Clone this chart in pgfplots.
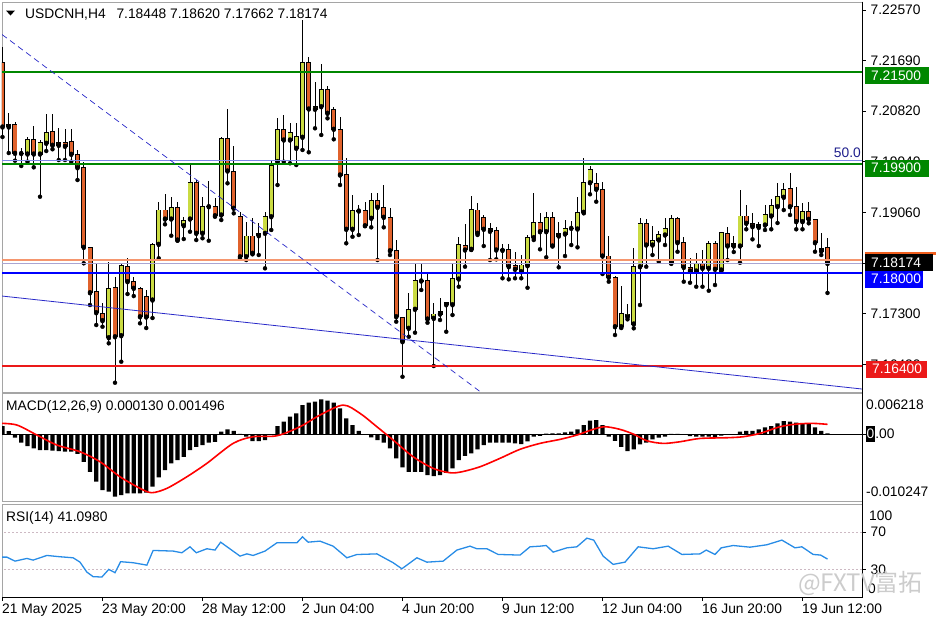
\documentclass[border=0pt]{standalone}
\usepackage{pgfplots}
\pgfplotsset{compat=1.18}
\usepackage{pgfplotstable}
\usepackage{fontspec}
\setmainfont{Liberation Sans}
\newfontfamily\cjk{Noto Sans CJK SC}

\definecolor{bull}{RGB}{202,219,66}
\definecolor{bear}{RGB}{224,98,44}
\definecolor{levelgreen}{RGB}{0,135,0}
\definecolor{levelblue}{RGB}{0,0,255}
\definecolor{levelred}{RGB}{235,25,25}
\definecolor{trend}{RGB}{40,40,200}
\definecolor{fibc}{RGB}{125,135,230}
\definecolor{fibtext}{RGB}{30,30,140}
\definecolor{frame}{RGB}{165,165,165}
\definecolor{rsic}{RGB}{40,140,230}
\definecolor{asking}{RGB}{245,150,110}
\definecolor{bidline}{RGB}{170,165,210}
\definecolor{askbox}{RGB}{240,95,30}
\definecolor{rsilvl}{RGB}{205,185,195}

\newcommand{\tf}{\fontsize{13.8}{16}\selectfont}

% H4 candles: index, open, high, low, close
\pgfplotstableread{
i o h l c
0 7.21651 7.21929 7.20367 7.20541
1 7.20541 7.20789 7.20089 7.20584
2 7.20587 7.20627 7.19956 7.20084
3 7.20081 7.20171 7.19864 7.20089
4 7.20072 7.20372 7.19939 7.20327
5 7.20327 7.20558 7.19841 7.20072
6 7.20072 7.20315 7.19331 7.20268
7 7.20258 7.20766 7.20124 7.20449
8 7.20466 7.20766 7.20154 7.20223
9 7.20223 7.20518 7.19968 7.20263
10 7.20263 7.20506 7.19968 7.20206
11 7.20292 7.20501 7.19939 7.20067
12 7.20055 7.20142 7.19621 7.19834
13 7.19834 7.19939 7.18176 7.18453
14 7.18453 7.18464 7.17452 7.17666
15 7.17683 7.18164 7.17105 7.17319
16 7.17308 7.17482 7.17076 7.17180
17 7.16885 7.18204 7.16788 7.17742
18 7.17759 7.17933 7.16104 7.16902
19 7.16920 7.18176 7.16469 7.18129
20 7.18117 7.18262 7.17643 7.17857
21 7.17857 7.17933 7.17608 7.17742
22 7.17742 7.17770 7.17135 7.17249
23 7.17591 7.17713 7.17053 7.17244
24 7.17539 7.18528 7.17227 7.18505
25 7.18505 7.19234 7.18262 7.19100
26 7.19100 7.19378 7.18852 7.18944
27 7.18944 7.19321 7.18655 7.19147
28 7.19140 7.19234 7.18568 7.18580
29 7.18828 7.18974 7.18597 7.18915
30 7.18944 7.19911 7.18724 7.19581
31 7.19581 7.19621 7.18580 7.18696
32 7.18696 7.19331 7.18610 7.19158
33 7.19158 7.19604 7.18568 7.19165
34 7.19158 7.19314 7.18984 7.19002
35 7.19014 7.20372 7.18927 7.20345
36 7.20345 7.20848 7.19564 7.19777
37 7.19765 7.20211 7.19043 7.19130
38 7.18984 7.19071 7.18262 7.18290
39 7.18290 7.18898 7.18233 7.18649
40 7.18649 7.18957 7.18332 7.18349
41 7.18655 7.18870 7.18320 7.18696
42 7.18696 7.19071 7.18089 7.18984
43 7.18984 7.19968 7.18754 7.19869
44 7.19939 7.20702 7.19534 7.20501
45 7.20501 7.20749 7.19939 7.20315
46 7.20315 7.20615 7.19911 7.20442
47 7.20171 7.20605 7.19881 7.20372
48 7.20362 7.22397 7.20142 7.21663
49 7.21663 7.21750 7.20102 7.20853
50 7.20848 7.21326 7.20518 7.20893
51 7.20893 7.21634 7.20402 7.21195
52 7.21195 7.21252 7.20691 7.20778
53 7.20836 7.20882 7.20327 7.20501
54 7.20501 7.20719 7.19534 7.19708
55 7.19708 7.19998 7.18523 7.18766
56 7.18766 7.19361 7.18637 7.19088
57 7.19083 7.19187 7.18667 7.19088
58 7.19088 7.19245 7.18823 7.18828
59 7.18957 7.19390 7.18800 7.19257
60 7.19257 7.19390 7.18233 7.19147
61 7.19147 7.19534 7.18800 7.18974
62 7.18962 7.19130 7.18320 7.18394
63 7.18394 7.18580 7.17163 7.17249
64 7.17239 7.17249 7.16208 7.16816
65 7.17048 7.17655 7.16902 7.17378
66 7.17378 7.18164 7.16972 7.17874
67 7.17869 7.18164 7.17713 7.17874
68 7.17874 7.17990 7.17145 7.17209
69 7.17221 7.17482 7.16394 7.17296
70 7.17296 7.17568 7.17192 7.17343
71 7.17499 7.17510 7.16989 7.17457
72 7.17457 7.18176 7.17279 7.17916
73 7.17903 7.18637 7.17770 7.18505
74 7.18488 7.18852 7.18117 7.18407
75 7.18419 7.19343 7.18407 7.19113
76 7.19100 7.19217 7.18667 7.18696
77 7.18974 7.19014 7.18476 7.18766
78 7.18771 7.18870 7.18233 7.18731
79 7.18736 7.18811 7.18245 7.18407
80 7.18407 7.18511 7.17916 7.18401
81 7.18407 7.18511 7.17898 7.18117
82 7.18129 7.18377 7.17916 7.18072
83 7.18030 7.18320 7.17916 7.18146
84 7.18134 7.18667 7.17752 7.18627
85 7.18620 7.19401 7.18580 7.18887
86 7.18887 7.19054 7.18419 7.18724
87 7.18724 7.19071 7.18280 7.18974
88 7.18974 7.19071 7.18476 7.18476
89 7.18649 7.18898 7.18106 7.18696
90 7.18684 7.18927 7.18302 7.18783
91 7.18783 7.18915 7.18493 7.18788
92 7.18771 7.19321 7.18453 7.19061
93 7.19061 7.19998 7.19043 7.19574
94 7.19574 7.19864 7.19373 7.19807
95 7.19564 7.19748 7.19245 7.19460
96 7.19460 7.19591 7.17990 7.18302
97 7.18302 7.18649 7.17857 7.17933
98 7.17933 7.17955 7.16932 7.17076
99 7.17076 7.17787 7.17053 7.17308
100 7.17249 7.17470 7.17204 7.17296
101 7.17123 7.18436 7.17048 7.18117
102 7.18117 7.18957 7.17452 7.18870
103 7.18870 7.18939 7.18117 7.18493
104 7.18493 7.18823 7.18320 7.18568
105 7.18580 7.18741 7.18204 7.18667
106 7.18667 7.18957 7.18493 7.18783
107 7.18176 7.19014 7.18176 7.18957
108 7.18957 7.18974 7.18377 7.18533
109 7.18533 7.18637 7.17857 7.18106
110 7.18106 7.18262 7.17839 7.18042
111 7.18042 7.18349 7.17770 7.18164
112 7.18164 7.18407 7.17770 7.18089
113 7.18089 7.18568 7.17700 7.18523
114 7.18523 7.18568 7.17799 7.18072
115 7.18060 7.18724 7.18030 7.18707
116 7.18696 7.18811 7.18233 7.18476
117 7.18476 7.18649 7.18372 7.18511
118 7.18476 7.19448 7.18186 7.18996
119 7.18996 7.19187 7.18766 7.18870
120 7.18858 7.19043 7.18592 7.18811
121 7.18800 7.18898 7.18476 7.18852
122 7.18840 7.19187 7.18754 7.19014
123 7.18996 7.19286 7.18766 7.19170
124 7.19158 7.19569 7.18875 7.19331
125 7.19321 7.19574 7.19100 7.19460
126 7.19477 7.19737 7.19014 7.19158
127 7.19158 7.19505 7.18766 7.18898
128 7.18898 7.19217 7.18766 7.19071
129 7.19071 7.19245 7.18870 7.18939
130 7.18939 7.18939 7.18377 7.18533
131 7.18389 7.18696 7.18320 7.18436
132 7.18448 7.18620 7.17662 7.18174
}\candles

\pgfplotsset{
  mt/.style={
    scale only axis, width=860pt,
    xmin=-0.08, xmax=137.52,
    axis line style={draw=frame, line width=0.9pt},
    tick align=outside, major tick length=3.5pt,
    tick style={black, line width=0.7pt},
    xtick=\empty, scaled ticks=false,
    ytick pos=right, yticklabel pos=right,
    tick label style={font=\tf},
    yticklabel style={anchor=west, inner sep=0pt, xshift=5pt},
    /pgf/number format/assume math mode=true,
  },
  ebar/.style 2 args={only marks, mark=none, forget plot,
    error bars/y dir=plus, error bars/y explicit, error bars/error mark=none,
    error bars/error bar style={draw=#1, line width=#2}},
  hline/.style 2 args={color=#1, solid, line width=#2, mark=none},
}

\begin{document}
\begin{tikzpicture}
\path[use as bounding box] (0pt,0pt) rectangle (936pt,-624pt);

% ---------------- price panel: candles ----------------
\begin{axis}[mt, at={(2pt,-2pt)}, anchor=north west, height=390pt,
  ymin=7.15943, ymax=7.22709,
  ytick={7.2257,7.2169,7.2082,7.1994,7.1906,7.1818,7.1730,7.1642},
  yticklabels={7.22570,7.21690,7.20820,7.19940,7.19060,{},7.17300,7.16420}]
\addplot[ebar={black}{0.9pt}] table[x=i, y=l, y error expr=\thisrow{h}-\thisrow{l}] {\candles};
\addplot[ebar={black}{5pt}] table[x=i,
  y expr={min(\thisrow{o},\thisrow{c})-0.00009},
  y error expr={abs(\thisrow{c}-\thisrow{o})+0.00018}] {\candles};
\addplot[x filter/.expression={\thisrow{c}>=\thisrow{o} ? x : nan}, ebar={bull}{3.2pt}]
  table[x=i, y expr={min(\thisrow{o},\thisrow{c})+0.00008},
  y error expr={max(abs(\thisrow{c}-\thisrow{o})-0.00016,0.00002)}] {\candles};
\addplot[x filter/.expression={\thisrow{c}<\thisrow{o} ? x : nan}, ebar={bear}{3.2pt}]
  table[x=i, y expr={min(\thisrow{o},\thisrow{c})+0.00008},
  y error expr={max(abs(\thisrow{c}-\thisrow{o})-0.00016,0.00002)}] {\candles};
\end{axis}

% ---------------- price panel: levels and trend lines on top ----------------
\begin{axis}[scale only axis, width=860pt, height=390pt, at={(2pt,-2pt)}, anchor=north west,
  xmin=-0.08, xmax=137.52, ymin=7.15943, ymax=7.22709, axis lines=none, ticks=none]
\addplot[hline={fibc}{1pt}] coordinates {(-1,7.19955) (140,7.19955)};
\addplot[hline={levelgreen}{1.8pt}] coordinates {(-1,7.215) (140,7.215)};
\addplot[hline={levelgreen}{1.8pt}] coordinates {(-1,7.199) (140,7.199)};
\addplot[hline={asking}{1.1pt}] coordinates {(-1,7.18233) (140,7.18233)};
\addplot[hline={bidline}{1.1pt}] coordinates {(-1,7.18174) (140,7.18174)};
\addplot[hline={levelred}{1.8pt}] coordinates {(-1,7.164) (140,7.164)};
\addplot[color=trend, line width=0.7pt, dash pattern=on 6pt off 4pt] coordinates {(-0.08,7.22145) (77,7.15903)};
\addplot[color=trend, line width=0.8pt] coordinates {(-0.08,7.17608) (137.52,7.15995)};
\addplot[hline={levelblue}{2pt}] coordinates {(-1,7.18) (140,7.18)};
\end{axis}

% ---------------- MACD panel ----------------
\begin{axis}[mt, at={(2pt,-393.3pt)}, anchor=north west, height=108.4pt,
  ymin=-0.010247, ymax=0.006218,
  ytick={0}, yticklabel style={xshift=-5pt},
  yticklabels={{\fboxsep=0pt\colorbox{black}{\rule[-3.5pt]{0pt}{16pt}\hspace{1pt}\textcolor{white}{0}\hspace{1pt}}.00}}]
\addplot[ybar, bar width=4.2pt, fill=black, draw=none] coordinates {
(0,0.00125) (1,0.00049) (2,-0.00053) (3,-0.00129) (4,-0.00179) (5,-0.00214)
(6,-0.00240) (7,-0.00240) (8,-0.00250) (9,-0.00255) (10,-0.00265) (11,-0.00265)
(12,-0.00300) (13,-0.00418) (14,-0.00570) (15,-0.00720) (16,-0.00848) (17,-0.00873)
(18,-0.00949) (19,-0.00924) (20,-0.00898) (21,-0.00898) (22,-0.00898) (23,-0.00888)
(24,-0.00797) (25,-0.00655) (26,-0.00544) (27,-0.00443) (28,-0.00392) (29,-0.00342)
(30,-0.00240) (31,-0.00190) (32,-0.00164) (33,-0.00129) (34,-0.00114) (35,0.00038)
(36,0.00074) (37,0.00053) (38,0.00005) (39,-0.00038) (40,-0.00103) (41,-0.00103)
(42,-0.00088) (43,-0.00010) (44,0.00125) (45,0.00190) (46,0.00266) (47,0.00317)
(48,0.00443) (49,0.00479) (50,0.00494) (51,0.00530) (52,0.00509) (53,0.00479)
(54,0.00393) (55,0.00241) (56,0.00140) (57,0.00053) (58,-0.00010) (59,-0.00048)
(60,-0.00088) (61,-0.00129) (62,-0.00214) (63,-0.00366) (64,-0.00503) (65,-0.00570)
(66,-0.00570) (67,-0.00570) (68,-0.00620) (69,-0.00635) (70,-0.00620) (71,-0.00585)
(72,-0.00518) (73,-0.00392) (74,-0.00330) (75,-0.00290) (76,-0.00230) (77,-0.00164)
(78,-0.00129) (79,-0.00129) (80,-0.00129) (81,-0.00129) (82,-0.00139) (83,-0.00149)
(84,-0.00110) (85,-0.00038) (86,-0.00023) (87,0.00010) (88,0.00015) (89,0.00015)
(90,0.00029) (91,0.00038) (92,0.00074) (93,0.00140) (94,0.00205) (95,0.00215)
(96,0.00140) (97,-0.00038) (98,-0.00099) (99,-0.00190) (100,-0.00255) (101,-0.00229)
(102,-0.00154) (103,-0.00129) (104,-0.00078) (105,-0.00053) (106,-0.00038) (107,0.00005)
(108,0.00005) (109,-0.00010) (110,-0.00030) (111,-0.00038) (112,-0.00038) (113,-0.00038)
(114,-0.00048) (115,-0.00020) (116,-0.00010) (117,0.00002) (118,0.00038) (119,0.00053)
(120,0.00053) (121,0.00074) (122,0.00104) (123,0.00125) (124,0.00165) (125,0.00200)
(126,0.00190) (127,0.00175) (128,0.00165) (129,0.00155) (130,0.00104) (131,0.00053)
(132,0.00013)};
\addplot[black, line width=0.9pt] coordinates {(-1,0) (140,0)};
\addplot[red, line width=1.6pt, smooth, tension=0.5] coordinates {
(-0.4,0.00166) (2.3,0.00140) (5.5,-0.00012) (8.7,-0.00164) (12.4,-0.00266) (15.6,-0.00418)
(18.8,-0.00646) (22,-0.00822) (23.9,-0.00888) (26.3,-0.00822) (29.5,-0.00646) (32.7,-0.00442)
(36.9,-0.00139) (40.1,-0.00038) (43.9,-0.00023) (47.6,0.00114) (50.8,0.00292) (54.5,0.00443)
(57.2,0.00317) (59.9,0.00114) (62.5,-0.00088) (65.7,-0.00342) (68.9,-0.00518) (71.6,-0.00585)
(73.5,-0.00570) (76.4,-0.00494) (79.6,-0.00366) (82.8,-0.00229) (86,-0.00139) (89.2,-0.00078)
(91.9,-0.00012) (94.5,0.00074) (96.4,0.00114) (98.8,0.00074) (101,0.00000) (103.1,-0.00099)
(105.7,-0.00139) (108.4,-0.00114) (111.6,-0.00064) (115.9,-0.00053) (118.5,-0.00038)
(121.2,0.00013) (124.4,0.00114) (127.1,0.00155) (129.7,0.00165) (132,0.00150)};
\end{axis}

% ---------------- RSI panel ----------------
\begin{axis}[mt, at={(2pt,-504.3pt)}, anchor=north west, height=93pt,
  ymin=0, ymax=100, ytick={30,70}, yticklabels={30,70},
  xtick={0,16,...,128}, xtick pos=bottom,
  xticklabels={21 May 2025,23 May 20:00,28 May 12:00,2 Jun 04:00,4 Jun 20:00,9 Jun 12:00,12 Jun 04:00,16 Jun 20:00,19 Jun 12:00},
  xticklabel style={anchor=north west, inner sep=0pt, xshift=-0.5pt, yshift=-3pt}]
\addplot[rsilvl, line width=0.8pt, dash pattern=on 2pt off 2pt] coordinates {(-1,70) (140,70)};
\addplot[rsilvl, line width=0.8pt, dash pattern=on 2pt off 2pt] coordinates {(-1,30) (140,30)};
\addplot[rsic, line width=1.3pt] coordinates {
(-0.4,43.2) (0.7,43.2) (2,38.9) (3.9,41.8) (4.9,40) (7.1,45) (9.2,43.6) (11.3,42.5)
(12.4,37.8) (13.5,27.1) (14.5,22.2) (15.9,21.8) (17,30) (18,26.5) (18.9,38.3) (20.9,37.2)
(23.1,34.6) (24.1,50.4) (27.3,49.7) (28.7,47.9) (30,54.3) (31,47.9) (32.7,52.2) (34,50.8)
(34.9,59.3) (38,44.3) (39.1,46.7) (40.1,45) (42,49.7) (43.9,58.6) (47.1,58.6) (48,65)
(48.9,59.3) (50.8,60.4) (52.9,55) (55.1,42.5) (56.7,46) (59.9,46.7) (62.5,37.2) (63.9,30.7)
(66.3,42.5) (67.9,37.8) (70.5,38.9) (72.7,50.8) (74.8,55) (75.9,52.2) (77.5,52.2) (79.3,46.1)
(82.8,45.4) (84.4,54.3) (86,55) (87,55.7) (88.1,48.6) (90.3,53.2) (91.9,54.3) (93.5,63.6)
(94.6,61.5) (96.1,44.3) (97.7,35.4) (99.6,37.8) (101.7,54.3) (104.1,52.2) (106.5,55)
(108.7,46.1) (111.6,46.7) (112.6,50.8) (114,46.1) (115,53.2) (116.9,55.7) (119.6,53.9)
(122.3,56.5) (124.7,61.5) (126.8,53.2) (127.9,54.3) (129.7,46.1) (130.9,45.4) (132,41.1)};
\end{axis}

% right price scale line and time axis line
\draw[black, line width=0.9pt] (862pt,-1.5pt) -- (862pt,-597.7pt);
\draw[black, line width=0.9pt] (2pt,-597.3pt) -- (862pt,-597.3pt);

% panel captions
\fill[black] (6pt,-10.5pt) -- (15pt,-10.5pt) -- (10.5pt,-15.5pt) -- cycle;
\node[anchor=base west, inner sep=0pt, font=\tf] at (25pt,-18.3pt)
  {USDCNH,H4\hspace{7pt} 7.18448 7.18620 7.17662 7.18174};
\node[anchor=base west, inner sep=0pt, font=\tf] at (6pt,-410.5pt)
  {MACD(12,26,9) 0.000130 0.001496};
\node[anchor=base west, inner sep=0pt, font=\tf] at (6pt,-521.5pt) {RSI(14) 41.0980};
\node[anchor=base east, inner sep=0pt, font=\tf, text=fibtext] at (861pt,-157.5pt) {50.0};

% price boxes on the scale
\tikzset{pbox/.style={anchor=west, font=\tf, text=white, inner xsep=6pt,
  inner ysep=0pt, minimum height=17pt, text width=52pt, align=left}}
\node[pbox, fill=levelgreen] at (865pt,-75.3pt) {7.21500};
\node[pbox, fill=levelgreen] at (865pt,-168pt) {7.19900};
\fill[askbox] (865pt,-251.7pt) rectangle (936pt,-255pt);
\node[pbox, fill=black, text width=56pt] at (865pt,-262.7pt) {7.18174};
\node[pbox, fill=levelblue, text width=46pt] at (865pt,-279.2pt) {7.18000};
\node[pbox, fill=levelred, text width=49pt] at (866pt,-369pt) {7.16400};

% indicator scale end labels
\node[anchor=north west, inner sep=0pt, font=\tf] at (866pt,-399.5pt) {0.006218};
\node[anchor=south west, inner sep=0pt, font=\tf] at (866pt,-497pt) {-0.010247};
\node[anchor=north west, inner sep=0pt, font=\tf] at (869pt,-510.5pt) {100};
\node[anchor=south west, inner sep=0pt, font=\tf] at (868pt,-593.5pt) {0};

% watermark
\node[anchor=base west, inner sep=0pt, text=gray!40, font=\cjk\fontsize{24}{26}\selectfont]
  at (798pt,-591.5pt) {@FXTV富拓};
\end{tikzpicture}
\end{document}
